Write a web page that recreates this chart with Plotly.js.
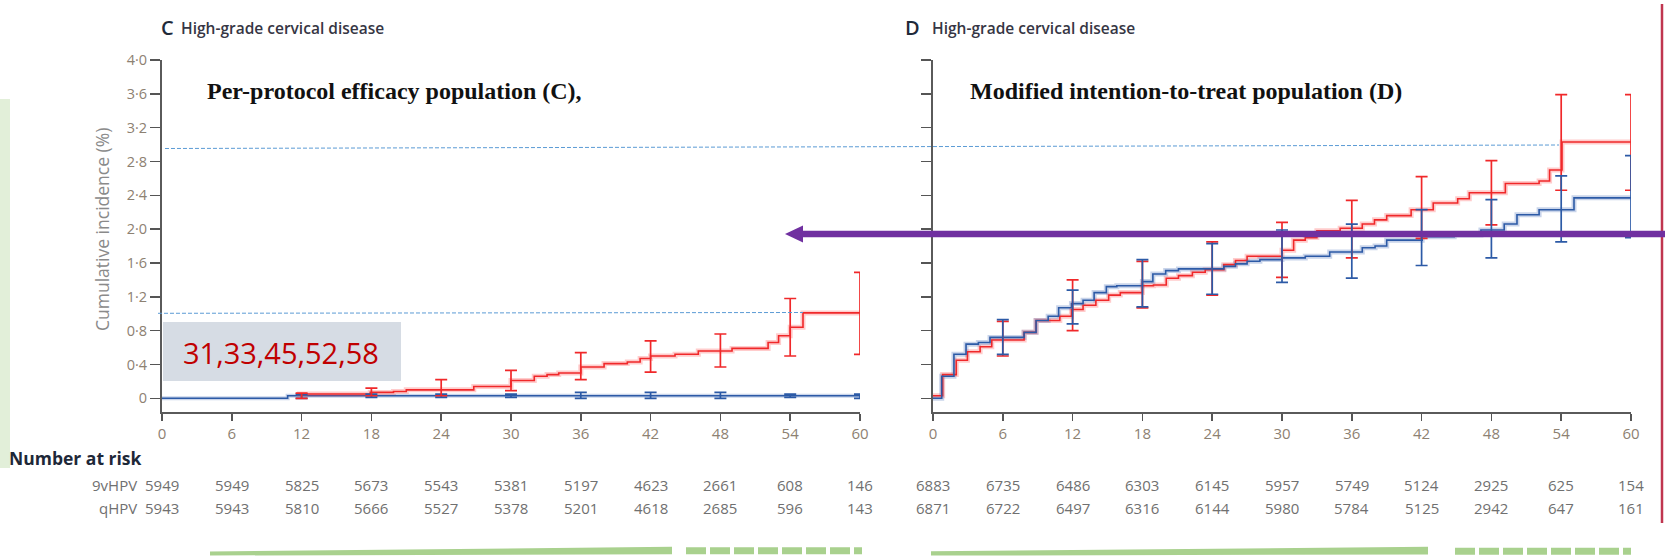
<!DOCTYPE html>
<html>
<head>
<meta charset="utf-8">
<script src="https://cdn.plot.ly/plotly-3.0.1.min.js"></script>
<style>html,body{margin:0;padding:0;background:#fff;}#chart{width:1665px;height:556px;}</style>
</head>
<body>
<div id="chart"></div>
<script>
// ---------------- DATA ----------------
const months = [0, 6, 12, 18, 24, 30, 36, 42, 48, 54, 60];
const yTickVals = [0, 0.4, 0.8, 1.2, 1.6, 2.0, 2.4, 2.8, 3.2, 3.6, 4.0];
const yTickText = ["0", "0·4", "0·8", "1·2", "1·6", "2·0", "2·4", "2·8", "3·2", "3·6", "4·0"];

// Panel C – per-protocol efficacy population
const cRiskNine = [5949, 5949, 5825, 5673, 5543, 5381, 5197, 4623, 2661, 608, 146];
const cRiskQ    = [5943, 5943, 5810, 5666, 5527, 5378, 5201, 4618, 2685, 596, 143];
const cRedTimes = [11.6, 17.9, 19.9, 21.0, 26.8, 30.0, 32.0, 33.1, 34.1, 36.0, 38.0, 40.0, 41.1, 42.0, 44.1, 46.1, 49.0, 52.1, 53.0, 54.0, 55.1, 60];
const cRedVals  = [0.05, 0.07, 0.08, 0.10, 0.14, 0.21, 0.26, 0.28, 0.30, 0.37, 0.41, 0.43, 0.47, 0.50, 0.52, 0.56, 0.59, 0.66, 0.74, 0.84, 1.01, 1.01];
const cBlueTimes = [0, 10.8, 60];
const cBlueVals  = [0, 0.03, 0.03];
const cCiMonths  = [12, 18, 24, 30, 36, 42, 48, 54, 60];
const cRedCiLow  = [0.00, 0.03, 0.03, 0.09, 0.22, 0.31, 0.37, 0.50, 0.52];
const cRedCiHigh = [0.06, 0.12, 0.22, 0.33, 0.54, 0.68, 0.76, 1.18, 1.49];
const cBlueCiLow  = [0.00, 0.01, 0.01, 0.01, 0.00, 0.00, 0.00, 0.01, 0.00];
const cBlueCiHigh = [0.05, 0.05, 0.05, 0.05, 0.07, 0.07, 0.07, 0.05, 0.05];

// Panel D – modified intention-to-treat population
const dRiskNine = [6883, 6735, 6486, 6303, 6145, 5957, 5749, 5124, 2925, 625, 154];
const dRiskQ    = [6871, 6722, 6497, 6316, 6144, 5980, 5784, 5125, 2942, 647, 161];
const dRedTimes = [0, 0.83, 2.0, 2.96, 4.05, 5.05, 7.83, 8.86, 10.9, 11.9, 12.9, 14.0, 15.1, 16.1, 18.0, 18.95, 20.05, 21.1, 22.3, 23.4, 25.0, 26.0, 27.0, 30.0, 31.0, 32.0, 33.0, 35.0, 36.9, 37.95, 39.0, 41.1, 43.0, 45.1, 46.1, 49.2, 52.1, 53.0, 54.07, 60];
const dRedVals  = [0.03, 0.28, 0.45, 0.55, 0.61, 0.69, 0.78, 0.92, 0.97, 1.05, 1.10, 1.16, 1.22, 1.25, 1.33, 1.34, 1.42, 1.45, 1.49, 1.52, 1.58, 1.63, 1.68, 1.75, 1.87, 1.90, 1.98, 2.01, 2.06, 2.11, 2.16, 2.23, 2.31, 2.36, 2.43, 2.54, 2.57, 2.70, 3.03, 3.03];
const dBlueTimes = [0, 0.75, 1.8, 2.84, 3.9, 4.9, 7.83, 8.86, 9.9, 10.8, 11.9, 12.9, 13.85, 14.9, 15.8, 18.0, 18.9, 20.0, 21.1, 25.0, 26.0, 27.0, 28.1, 30.0, 32.0, 34.1, 36.9, 38.0, 39.0, 42.05, 44.8, 47.1, 49.1, 50.2, 52.1, 55.1, 60];
const dBlueVals  = [0, 0.26, 0.52, 0.64, 0.66, 0.72, 0.78, 0.92, 0.97, 1.07, 1.12, 1.16, 1.25, 1.32, 1.33, 1.38, 1.47, 1.51, 1.53, 1.56, 1.59, 1.62, 1.64, 1.66, 1.68, 1.73, 1.78, 1.80, 1.87, 1.91, 1.93, 1.99, 2.06, 2.17, 2.23, 2.37, 2.37];
const dCiMonths  = [6, 12, 18, 24, 30, 36, 42, 48, 54, 60];
const dRedCiLow  = [0.50, 0.80, 1.07, 1.22, 1.43, 1.66, 1.89, 2.05, 2.46, 2.46];
const dRedCiHigh = [0.91, 1.40, 1.62, 1.85, 2.08, 2.34, 2.62, 2.81, 3.59, 3.59];
const dBlueCiLow  = [0.52, 0.88, 1.08, 1.23, 1.37, 1.42, 1.57, 1.66, 1.85, 1.90];
const dBlueCiHigh = [0.93, 1.28, 1.64, 1.83, 1.99, 2.06, 2.23, 2.35, 2.63, 2.87];

const groupLabels = ["9vHPV", "qHPV"];
const highlightTypes = "31,33,45,52,58";

// ---------------- STYLE / LAYOUT ----------------
const W = 1665, H = 556;
const px = v => v / W;
const py = v => 1 - v / H;
const RED = "#f0282a", RED_HALO = "rgba(255,50,50,0.25)";
const BLUE = "#2c5aa6", BLUE_HALO = "rgba(60,100,180,0.28)";
const FONT = "Open Sans, Lato, sans-serif";
const tickCol = "#8d8172";

function stepTrace(x, y, color, width, xa, ya) {
  return {x: x, y: y, type: "scatter", mode: "lines", line: {shape: "hv", color: color, width: width},
          xaxis: xa, yaxis: ya, hoverinfo: "skip", showlegend: false, cliponaxis: false};
}
function ciTrace(x, lo, hi, color, xa, ya) {
  return {x: x, y: lo, type: "scatter", mode: "markers", marker: {size: 1, color: "rgba(0,0,0,0)"},
          error_y: {type: "data", symmetric: false, array: hi.map((h, i) => h - lo[i]), arrayminus: lo.map(() => 0),
                    color: color, thickness: 1.7, width: 6},
          xaxis: xa, yaxis: ya, hoverinfo: "skip", showlegend: false, cliponaxis: false};
}

const traces = [
  stepTrace(cBlueTimes, cBlueVals, BLUE_HALO, 4, "x", "y"),
  stepTrace(cBlueTimes, cBlueVals, BLUE, 1.6, "x", "y"),
  stepTrace(cRedTimes, cRedVals, RED_HALO, 5, "x", "y"),
  stepTrace(cRedTimes, cRedVals, RED, 1.6, "x", "y"),
  ciTrace(cCiMonths, cBlueCiLow, cBlueCiHigh, BLUE, "x", "y"),
  ciTrace(cCiMonths, cRedCiLow, cRedCiHigh, RED, "x", "y"),
  stepTrace(dRedTimes, dRedVals, RED_HALO, 5, "x2", "y2"),
  stepTrace(dBlueTimes, dBlueVals, BLUE_HALO, 5, "x2", "y2"),
  stepTrace(dRedTimes, dRedVals, RED, 1.6, "x2", "y2"),
  stepTrace(dBlueTimes, dBlueVals, BLUE, 1.6, "x2", "y2"),
  ciTrace(dCiMonths, dRedCiLow, dRedCiHigh, RED, "x2", "y2"),
  ciTrace(dCiMonths, dBlueCiLow, dBlueCiHigh, BLUE, "x2", "y2")
];

function xAxis(x0, x1, anchor) {
  return {domain: [px(x0), px(x1)], range: [0, 60], anchor: anchor,
          tickvals: months, ticktext: months.map(String), ticks: "outside", ticklen: 7, tickwidth: 1.5, tickcolor: "#555",
          showline: true, linecolor: "#5a5a5a", linewidth: 2, showgrid: false, zeroline: false,
          tickfont: {family: FONT, size: 15, color: tickCol}, fixedrange: true};
}
function yAxis(anchor, labels) {
  return {domain: [py(412), py(60)], range: [-0.162, 4.0], anchor: anchor,
          tickvals: yTickVals, ticktext: yTickText, showticklabels: labels, ticks: "outside", ticklen: 10, tickwidth: 1.5, tickcolor: "#555",
          showline: true, linecolor: "#5a5a5a", linewidth: 2, showgrid: false, zeroline: false,
          tickfont: {family: FONT, size: 14.5, color: tickCol}, fixedrange: true};
}

const annotations = [];
function txt(text, x, y, opts) {
  annotations.push(Object.assign({text: text, x: px(x), y: py(y), xref: "paper", yref: "paper",
    showarrow: false, xanchor: "left", yanchor: "middle"}, opts));
}
// Panel titles
txt("C", 159, 27, {font: {family: FONT, size: 20, color: "#1f2a3a", weight: 600}});
txt("High-grade cervical disease", 179, 28, {font: {family: FONT, size: 15.5, color: "#363644", weight: 600}});
txt("D", 903, 27, {font: {family: FONT, size: 20, color: "#1f2a3a", weight: 600}});
txt("High-grade cervical disease", 930, 28, {font: {family: FONT, size: 15.5, color: "#363644", weight: 600}});
// Serif bold labels
txt("Per-protocol efficacy population (C),", 205, 91, {font: {family: "Liberation Serif, Times New Roman, serif", size: 24, color: "#111", weight: 700}});
txt("Modified intention-to-treat population (D)", 968, 91, {font: {family: "Liberation Serif, Times New Roman, serif", size: 24, color: "#111", weight: 700}});
// Highlight box text
txt(highlightTypes, 181, 352, {font: {family: "Open Sans, sans-serif", size: 29, color: "#C00000"}});
// Y axis title
txt("Cumulative incidence (%)", 102, 230, {xanchor: "center", textangle: -90, font: {family: FONT, size: 17.5, color: "#8a8a8a"}});
// Number at risk
txt("Number at risk", 7, 458, {font: {family: FONT, size: 17.5, color: "#1e2838", weight: 700}});
txt(groupLabels[0], 139, 485, {xanchor: "right", font: {family: FONT, size: 15, color: "#707070"}});
txt(groupLabels[1], 139, 508, {xanchor: "right", font: {family: FONT, size: 15, color: "#707070"}});
function riskRow(vals, xref, yPix) {
  vals.forEach((v, i) => annotations.push({text: String(v), x: months[i], xref: xref, y: py(yPix), yref: "paper",
    showarrow: false, xanchor: "center", yanchor: "middle", font: {family: FONT, size: 15, color: "#707070"}}));
}
riskRow(cRiskNine, "x", 485);
riskRow(cRiskQ, "x", 508);
riskRow(dRiskNine, "x2", 485);
riskRow(dRiskQ, "x2", 508);

const GREEN = "#A9D18E";
function pathP(pts) { return "M " + pts.map(p => px(p[0]) + "," + py(p[1])).join(" L ") + " Z"; }
const shapes = [
  {type: "rect", xref: "paper", yref: "paper", x0: 0, x1: px(10), y0: py(468), y1: py(99), fillcolor: "#E2EFD9", line: {width: 0}, layer: "below"},
  {type: "rect", xref: "paper", yref: "paper", x0: px(163), x1: px(401), y0: py(381), y1: py(322), fillcolor: "#D6DCE4", line: {width: 0}, layer: "above"},
  {type: "line", xref: "paper", yref: "paper", x0: px(165), x1: px(1559), y0: py(148.5), y1: py(145), line: {color: "#5B9BD5", width: 1, dash: "4px,2px"}, layer: "above"},
  {type: "line", xref: "paper", yref: "paper", x0: px(158), x1: px(803), y0: py(313.3), y1: py(312.5), line: {color: "#5B9BD5", width: 1, dash: "4px,2px"}, layer: "above"},
  {type: "line", xref: "paper", yref: "paper", x0: px(1662), x1: px(1662), y0: py(4), y1: py(523), line: {color: "#C0354F", width: 2.5}, layer: "above"},
  {type: "line", xref: "paper", yref: "paper", x0: px(800), x1: px(1665), y0: py(234), y1: py(234), line: {color: "#7030A0", width: 6.5}, layer: "above"},
  {type: "path", xref: "paper", yref: "paper", path: pathP([[785, 234], [803, 225.5], [803, 242.5]]), fillcolor: "#7030A0", line: {width: 0}, layer: "above"},
  {type: "path", xref: "paper", yref: "paper", path: pathP([[210, 551.5], [672, 546.8], [672, 554.2], [210, 555.5]]), fillcolor: GREEN, line: {width: 0}, layer: "above"},
  {type: "line", xref: "paper", yref: "paper", x0: px(686), x1: px(862), y0: py(550.8), y1: py(550.8), line: {color: GREEN, width: 7, dash: "20px,4px"}, layer: "above"},
  {type: "path", xref: "paper", yref: "paper", path: pathP([[931, 551.3], [1428, 546.8], [1428, 554.5], [931, 555.6]]), fillcolor: GREEN, line: {width: 0}, layer: "above"},
  {type: "line", xref: "paper", yref: "paper", x0: px(1455), x1: px(1631), y0: py(551.2), y1: py(551.2), line: {color: GREEN, width: 7, dash: "20px,4px"}, layer: "above"}
];

const layout = {
  width: W, height: H, margin: {l: 0, r: 0, t: 0, b: 0},
  paper_bgcolor: "#ffffff", plot_bgcolor: "rgba(0,0,0,0)",
  showlegend: false,
  xaxis: xAxis(162, 860, "y"),
  yaxis: yAxis("x", true),
  xaxis2: xAxis(933, 1631, "y2"),
  yaxis2: yAxis("x2", false),
  annotations: annotations,
  shapes: shapes
};

Plotly.newPlot("chart", traces, layout, {staticPlot: true, displayModeBar: false});
</script>
</body>
</html>
